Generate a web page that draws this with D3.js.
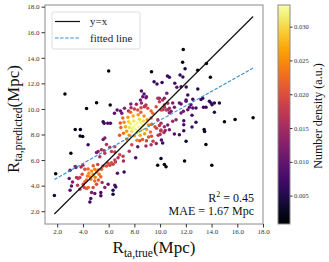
<!DOCTYPE html>
<html lang="en">
<head>
<meta charset="UTF-8">
<title>R_ta predicted vs true</title>
<style>
  body, html { margin: 0; padding: 0; background: #fff; }
  svg { display: block; }
  text { font-family: "Liberation Serif", "DejaVu Serif", serif; }
</style>
</head>
<body>
<svg id="svg" width="329" height="262"></svg>
<script src="https://d3js.org/d3.v7.min.js"></script>
<script>
// true R_ta (Mpc)
const xTrue = [
  2.60, 6.00, 9.33, 11.80, 11.75, 11.94, 13.60, 12.92, 13.91, 4.28, 5.06, 6.12, 3.40, 3.80, 3.78, 3.98,
  3.06, 1.88, 1.78, 17.23, 15.83, 15.00, 13.42, 13.46, 12.02, 13.56, 10.07, 9.81, 10.33, 10.46, 11.90, 14.02,
  9.53, 9.76, 10.15, 10.57, 10.72, 11.55, 11.77, 11.14, 11.30, 11.63, 12.03, 12.93, 8.55, 8.75, 8.94, 10.52,
  12.15, 9.94, 10.33, 12.02, 12.54, 13.31, 14.61, 14.22, 14.04, 14.22, 13.83, 13.96, 13.57, 13.37, 13.18, 12.54,
  12.79, 12.40, 12.15, 11.81, 11.63, 12.48, 11.84, 11.84, 11.84, 12.79, 12.48, 11.11, 11.50, 10.72, 10.00, 10.30,
  10.40, 10.05, 9.60, 9.72, 10.98, 11.24, 10.72, 10.85, 10.33, 10.59, 10.20, 11.50, 11.63, 12.02, 12.28, 10.98,
  11.11, 9.82, 9.95, 10.20, 10.33, 10.59, 9.69, 10.07, 10.46, 10.72, 8.65, 8.90, 8.47, 10.20, 10.10, 9.33,
  9.45, 4.40, 5.57, 5.65, 5.93, 6.14, 6.66, 6.92, 7.02, 6.45, 7.23, 7.54, 7.74, 8.00, 8.26, 8.52,
  8.78, 8.90, 9.04, 9.30, 9.43, 7.72, 8.16, 8.55, 8.81, 5.70, 5.57, 5.83, 6.09, 5.18, 5.44, 5.65,
  6.22, 6.48, 6.86, 7.12, 8.63, 8.42, 8.94, 5.06, 5.31, 5.70, 6.48, 8.26, 8.10, 7.60, 7.80,
  8.00, 8.20, 7.85, 8.35, 7.70, 8.10, 8.50, 7.95, 8.40, 7.60, 8.65, 8.25, 7.80, 8.70, 7.55, 8.60,
  7.30, 7.40, 7.20, 7.50, 7.90, 8.30, 8.75, 9.00, 9.10, 8.95, 8.80, 8.45, 8.00, 7.60, 7.15, 6.95,
  6.90, 7.10, 7.40, 8.20, 9.30, 9.35, 9.25, 6.85, 7.70, 8.50,
  9.82, 10.07, 10.33, 9.95, 10.07, 10.59, 9.85, 9.10, 9.30, 9.70, 8.90,
  3.00, 3.45, 2.93, 3.19, 3.11, 3.00, 3.50, 3.63, 3.76, 4.15, 3.94, 3.58, 3.76, 4.02, 4.10, 4.28,
  4.41, 4.35, 4.46, 4.56, 4.67, 4.79, 4.61, 4.28, 4.92, 5.06, 5.18, 5.26, 5.39, 4.92, 5.06, 4.79,
  5.44, 5.57, 5.83, 5.96, 6.09, 6.22, 6.34, 6.53, 5.49, 5.70, 5.96, 6.48, 4.67, 4.61, 4.54, 4.92,
  5.39, 5.39, 6.34, 6.34, 6.55, 6.68, 7.20, 6.73, 7.15, 6.48, 3.40, 3.85, 4.00, 4.40, 4.80, 5.15,
  4.95, 4.15, 5.20
];
// predicted R_ta (Mpc)
const yPred = [
  11.17, 12.97, 12.90, 14.64, 13.65, 13.15, 13.55, 13.03, 12.48, 10.03, 10.49, 10.31, 8.40, 8.40, 7.88, 7.85,
  6.54, 4.93, 3.23, 9.32, 9.18, 8.99, 8.40, 8.23, 7.47, 7.22, 6.12, 5.60, 5.66, 5.48, 5.93, 5.60,
  12.13, 11.95, 12.07, 12.58, 12.48, 12.66, 12.50, 12.00, 11.70, 11.74, 11.72, 11.56, 11.40, 11.17, 10.96, 11.23,
  11.10, 10.83, 10.83, 10.70, 10.76, 10.83, 10.47, 10.47, 10.33, 9.74, 10.60, 10.47, 10.13, 10.13, 10.73, 10.08,
  10.08, 10.33, 9.94, 9.82, 9.69, 9.50, 9.08, 8.77, 8.30, 8.96, 8.59, 8.04, 7.99, 8.38, 8.00, 8.15,
  8.32, 8.28, 8.60, 8.48, 9.03, 9.16, 9.70, 9.82, 10.13, 9.94, 9.94, 10.47, 10.39, 10.60, 10.13, 10.47,
  10.13, 10.83, 10.57, 10.70, 10.31, 10.44, 10.18, 9.92, 9.92, 10.05, 10.96, 10.88, 10.70, 7.34, 7.58, 7.86,
  7.47, 7.20, 9.00, 8.88, 8.88, 8.88, 9.92, 9.84, 9.66, 9.66, 10.05, 9.84, 10.10, 10.00, 9.92, 10.10,
  10.18, 10.31, 10.05, 9.84, 9.66, 10.39, 10.36, 10.47, 10.21, 7.73, 7.60, 7.21, 7.00, 6.68, 6.80, 6.72,
  6.68, 6.63, 6.42, 6.30, 7.60, 7.52, 7.52, 6.60, 6.27, 6.53, 7.05, 7.05, 6.19, 6.70, 7.20,
  8.70, 8.90, 8.50, 8.60, 8.85, 8.40, 8.95, 9.05, 9.20, 8.55, 8.70, 8.20, 8.25, 9.05, 9.00, 8.35,
  8.60, 8.25, 8.95, 9.35, 9.45, 9.55, 9.45, 9.15, 8.75, 8.40, 8.05, 7.95, 7.90, 7.95, 8.10, 8.55,
  8.90, 9.30, 7.65, 7.55, 9.30, 8.80, 8.20, 7.95, 9.75, 9.75,
  9.16, 8.88, 8.60, 8.70, 8.35, 8.75, 7.95, 7.80, 7.20, 7.30, 7.10,
  5.20, 5.41, 4.55, 4.29, 3.98, 3.64, 4.63, 4.55, 4.63, 5.28, 4.89, 4.03, 3.72, 4.11, 3.85, 3.77,
  3.85, 4.76, 4.97, 4.70, 5.15, 4.89, 4.50, 4.45, 5.28, 5.07, 5.23, 4.89, 4.70, 4.37, 4.11, 3.85,
  5.28, 5.54, 5.54, 5.75, 5.60, 5.80, 5.67, 5.85, 4.24, 3.85, 4.11, 4.03, 3.46, 3.00, 2.73, 3.38,
  3.46, 3.20, 3.64, 3.33, 3.90, 4.97, 5.07, 6.19, 5.93, 6.00, 5.50, 5.45, 5.60, 5.30, 5.55, 5.65,
  4.65, 4.30, 4.45
];
// number density (a.u.)
const dens = [
  .0010, .0010, .0015, .0010, .0020, .0040, .0010, .0020, .0012, .0012, .0012, .0015, .0018, .0018, .0022, .0022,
  .0015, .0012, .0035, .0008, .0010, .0012, .0030, .0030, .0035, .0015, .0025, .0020, .0020, .0018, .0015, .0010,
  .006, .007, .006, .007, .007, .006, .006, .008, .009, .008, .007, .005, .008, .009, .010, .012,
  .007, .014, .013, .008, .007, .006, .005, .006, .006, .005, .006, .006, .007, .007, .007, .009,
  .008, .009, .010, .011, .011, .008, .008, .008, .007, .006, .007, .009, .008, .012, .016, .015,
  .014, .017, .020, .019, .014, .013, .013, .012, .016, .015, .017, .010, .010, .009, .009, .012,
  .012, .016, .018, .016, .018, .015, .020, .019, .017, .015, .010, .011, .012, .007, .008, .020,
  .018, .006, .006, .007, .008, .008, .009, .010, .011, .009, .013, .016, .015, .018, .020, .019,
  .017, .016, .020, .022, .023, .012, .014, .014, .017, .012, .011, .016, .017, .013, .015, .016,
  .018, .018, .019, .018, .021, .020, .019, .011, .016, .017, .019, .010, .008, .016, .019,
  .0330, .0325, .0320, .0328, .0315, .0322, .0318, .0310, .0300, .0305, .0312, .0310, .0305, .0300, .0295, .0302,
  .027, .026, .025, .026, .027, .026, .025, .026, .025, .027, .026, .027, .027, .025, .023, .022,
  .021, .022, .023, .024, .022, .022, .023, .021, .022, .022,
  .016, .015, .014, .017, .016, .012, .016, .021, .016, .013, .015,
  .009, .011, .010, .012, .010, .009, .016, .017, .018, .020, .020, .017, .017, .019, .019, .021,
  .022, .024, .025, .025, .025, .025, .024, .023, .024, .024, .023, .023, .022, .022, .020, .020,
  .021, .020, .020, .020, .019, .020, .018, .018, .016, .013, .010, .008, .012, .008, .006, .010,
  .008, .007, .005, .004, .006, .009, .006, .016, .015, .018, .012, .015, .016, .022, .021, .019,
  .024, .022, .021
];

const xTicks = [2, 4, 6, 8, 10, 12, 14, 16, 18];
const yTicks = [2, 4, 6, 8, 10, 12, 14, 16, 18];
const cbTicks = [0.005, 0.010, 0.015, 0.020, 0.025, 0.030];
const densRange = [0.0008, 0.0332];
const fit = { slope: 0.564, intercept: 3.48 };
const lineRange = [1.78, 17.23];
const stats = ['0.45', '1.67'];

const svg = d3.select('#svg');
const pL = 45, pR = 263, pT = 5, pB = 224;

const x = d3.scaleLinear().domain([1.05, 18.0]).range([pL, pR]);
const y = d3.scaleLinear().domain([1.0, 18.13]).range([pB, pT]);
const color = d3.scaleSequential(d3.interpolateInferno).domain(densRange);

// points, low density first
const pts = xTrue.map((v, i) => ({ x: v, y: yPred[i], d: dens[i] }))
  .sort((a, b) => a.d - b.d);

svg.append('g')
  .selectAll('circle')
  .data(pts)
  .enter()
  .append('circle')
  .attr('cx', d => x(d.x))
  .attr('cy', d => y(d.y))
  .attr('r', 1.75)
  .attr('fill', d => color(d.d));

// y = x
svg.append('line')
  .attr('x1', x(lineRange[0])).attr('y1', y(lineRange[0]))
  .attr('x2', x(lineRange[1])).attr('y2', y(lineRange[1]))
  .attr('stroke', '#111').attr('stroke-width', 1.2);

// fitted line
svg.append('line')
  .attr('x1', x(lineRange[0])).attr('y1', y(fit.slope * lineRange[0] + fit.intercept))
  .attr('x2', x(lineRange[1])).attr('y2', y(fit.slope * lineRange[1] + fit.intercept))
  .attr('stroke', '#3590d0').attr('stroke-width', 1.1)
  .attr('stroke-dasharray', '3.5,1.6');

// frame
svg.append('rect')
  .attr('x', pL).attr('y', pT)
  .attr('width', pR - pL).attr('height', pB - pT)
  .attr('fill', 'none').attr('stroke', '#8a8a8a').attr('stroke-width', 1);

// axes
const xAxis = svg.append('g')
  .attr('transform', `translate(0,${pB})`)
  .call(d3.axisBottom(x).tickValues(xTicks).tickFormat(d3.format('.1f')).tickSize(3.5).tickPadding(2));
const yAxis = svg.append('g')
  .attr('transform', `translate(${pL},0)`)
  .call(d3.axisLeft(y).tickValues(yTicks).tickFormat(d3.format('.1f')).tickSize(3.5).tickPadding(2));
[xAxis, yAxis].forEach(a => {
  a.select('.domain').remove();
  a.selectAll('line').attr('stroke', '#333');
  a.selectAll('text').attr('fill', '#333')
    .style('font-family', '"Liberation Serif", serif').style('font-size', '7px');
});

// legend
const lg = svg.append('g');
lg.append('rect')
  .attr('x', 52).attr('y', 12).attr('width', 88).attr('height', 37).attr('rx', 2)
  .attr('fill', 'white').attr('fill-opacity', 0.8)
  .attr('stroke', '#d4d4d4').attr('stroke-width', 0.8);
lg.append('line').attr('x1', 55).attr('x2', 80).attr('y1', 21.5).attr('y2', 21.5)
  .attr('stroke', '#111').attr('stroke-width', 1.2);
lg.append('line').attr('x1', 55).attr('x2', 80).attr('y1', 38).attr('y2', 38)
  .attr('stroke', '#3590d0').attr('stroke-width', 1.1).attr('stroke-dasharray', '3.5,1.6');
lg.append('text').attr('x', 90).attr('y', 25).text('y=x')
  .style('font-size', '11px').attr('fill', '#222');
lg.append('text').attr('x', 90).attr('y', 41.5).text('fitted line')
  .style('font-size', '11px').attr('fill', '#222');

// stats
const st = svg.append('text').attr('x', 254).attr('y', 201.5)
  .attr('text-anchor', 'end').style('font-size', '12px').attr('fill', '#111');
st.append('tspan').text('R');
st.append('tspan').text('2').attr('dy', -4.5).style('font-size', '8px');
st.append('tspan').text(' = ' + stats[0]).attr('dy', 4.5);
svg.append('text').attr('x', 254).attr('y', 215)
  .attr('text-anchor', 'end').style('font-size', '12px').attr('fill', '#111')
  .text('MAE = ' + stats[1] + ' Mpc');

// axis labels
const xl = svg.append('text').attr('x', 154).attr('y', 253)
  .attr('text-anchor', 'middle').style('font-size', '17px').attr('fill', '#111');
xl.append('tspan').text('R');
xl.append('tspan').text('ta,true').attr('dy', 3.5).style('font-size', '11.5px');
xl.append('tspan').text('(Mpc)').attr('dy', -3.5);

const yl = svg.append('text')
  .attr('transform', 'translate(18.5,119) rotate(-90)')
  .attr('text-anchor', 'middle').style('font-size', '17px').attr('fill', '#111');
yl.append('tspan').text('R');
yl.append('tspan').text('ta,predicted').attr('dy', 3.5).style('font-size', '11.5px');
yl.append('tspan').text('(Mpc)').attr('dy', -3.5);

// colorbar
const cbX = 278, cbW = 12;
const cb = d3.scaleLinear().domain(densRange).range([pB, pT]);
const defs = svg.append('defs');
const grad = defs.append('linearGradient').attr('id', 'cbgrad')
  .attr('x1', 0).attr('y1', 1).attr('x2', 0).attr('y2', 0);
d3.range(0, 1.0001, 0.05).forEach(t => {
  grad.append('stop').attr('offset', t).attr('stop-color', d3.interpolateInferno(t));
});
svg.append('rect').attr('x', cbX).attr('y', pT).attr('width', cbW).attr('height', pB - pT)
  .attr('fill', 'url(#cbgrad)').attr('stroke', '#8a8a8a').attr('stroke-width', 1);
const cbAxis = svg.append('g')
  .attr('transform', `translate(${cbX + cbW},0)`)
  .call(d3.axisRight(cb).tickValues(cbTicks).tickFormat(d3.format('.3f')).tickSize(2.5).tickPadding(1.5));
cbAxis.select('.domain').remove();
cbAxis.selectAll('line').attr('stroke', '#333');
cbAxis.selectAll('text').attr('fill', '#333')
  .style('font-family', '"Liberation Serif", serif').style('font-size', '6.5px');

svg.append('text')
  .attr('transform', 'translate(322,116) rotate(-90)')
  .attr('text-anchor', 'middle').style('font-size', '12px').attr('fill', '#111')
  .text('Number density (a.u.)');
</script>
</body>
</html>
